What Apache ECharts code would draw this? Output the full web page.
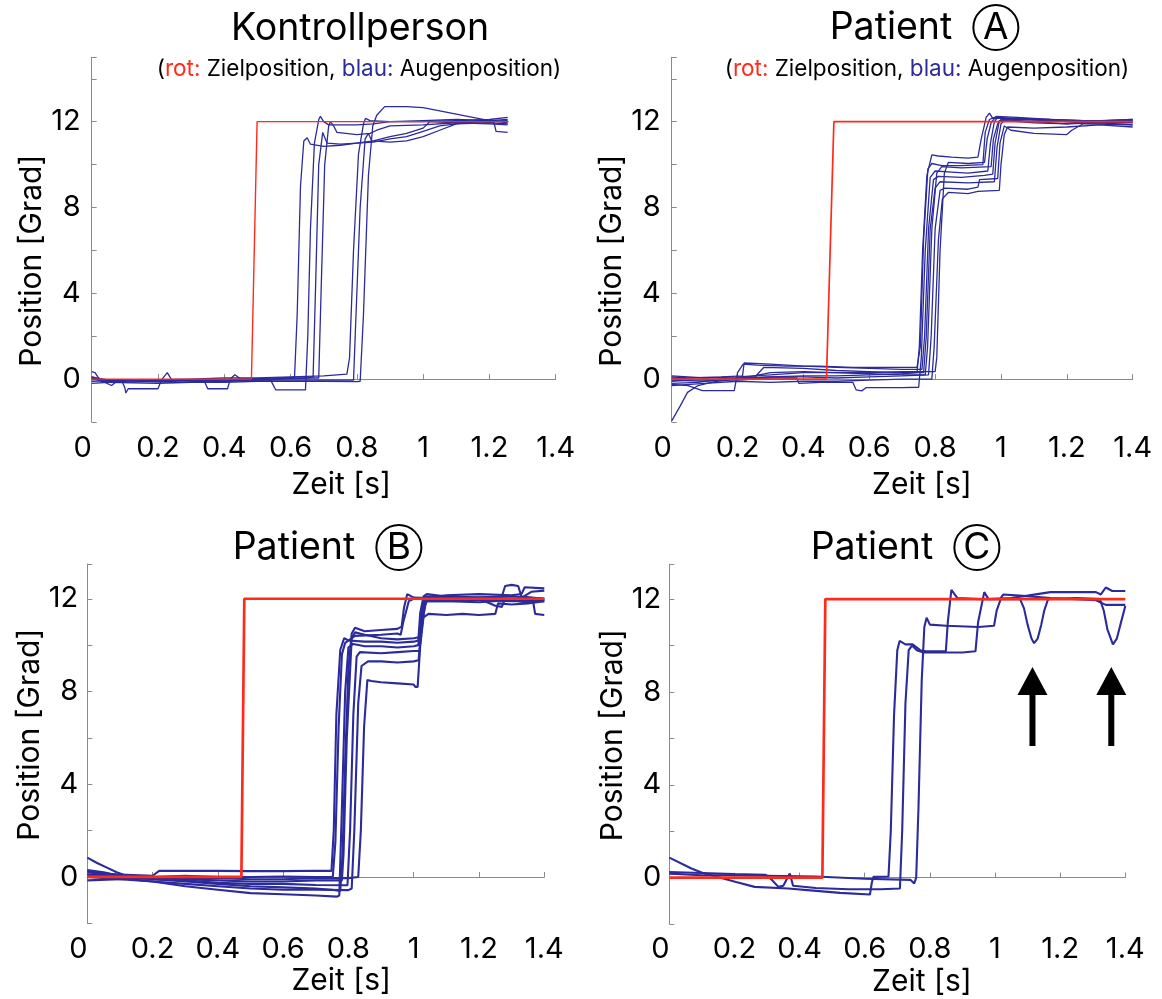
<!DOCTYPE html>
<html>
<head>
<meta charset="utf-8">
<script src="https://cdn.jsdelivr.net/npm/echarts@6/dist/echarts.min.js"></script>
<style>
  html, body { margin: 0; padding: 0; background: #fff; }
  #chart { width: 1162px; height: 999px; }
</style>
</head>
<body>
<div id="chart"></div>
<script>
const FONT = 'Inter, "Liberation Sans", Helvetica, Arial, sans-serif';
const BLUE = '#2b2b9c';
const RED = '#ff2a1a';
const AXIS_GREY = '#8a8a8a';

// tick labels that are printed on the y axes (ticks every 2)
const yTickLabels = [0, 4, 8, 12];

// target (red) step for each panel: [time s, position deg]
const kontrollTarget = [[0, 0], [0.482, 0], [0.499, 12], [1.258, 12]];
const patientATarget = [[0, 0], [0.47, 0], [0.4925, 12], [1.4, 12]];
const patientBTarget = [[0, 0], [0.472, 0], [0.481, 12], [1.4, 12]];
const patientCTarget = [[0, 0], [0.47, 0], [0.479, 12], [1.4, 12]];

// eye traces (blue)
const kontrollTraces = [
  [[0,0.05],[0.03,-0.1],[0.1,-0.15],[0.2,-0.1],[0.3,-0.15],[0.4,-0.1],[0.5,-0.05],[0.6,0.05],[0.612,0.1],[0.62,3],[0.63,9],[0.64,11.1],[0.65,11.25],[0.66,10.95],[0.7,10.85],[0.75,10.9],[0.8,11.0],[0.85,11.1],[0.9,11.3],[0.95,11.45],[1.0,11.7],[1.02,12.0],[1.1,11.95],[1.2,11.9],[1.255,11.85]],
  [[0,0.35],[0.01,0.3],[0.025,-0.05],[0.06,-0.3],[0.08,-0.05],[0.15,-0.1],[0.25,-0.15],[0.33,-0.1],[0.4,-0.05],[0.48,0],[0.54,-0.05],[0.555,-0.5],[0.6,-0.5],[0.645,-0.5],[0.652,2],[0.66,7],[0.672,11],[0.685,12.1],[0.69,12.25],[0.7,12.0],[0.715,11.85],[0.8,11.85],[0.85,11.9],[0.9,12.0],[1.0,12.05],[1.1,12.1],[1.2,12.05],[1.255,12.1]],
  [[0,-0.1],[0.09,-0.05],[0.1,-0.4],[0.103,-0.65],[0.11,-0.45],[0.2,-0.45],[0.21,-0.05],[0.228,0.3],[0.24,0],[0.35,-0.05],[0.45,-0.05],[0.55,0],[0.65,0.05],[0.668,0.1],[0.675,4],[0.685,10],[0.697,11.5],[0.71,11.0],[0.75,10.95],[0.8,11.0],[0.85,11.05],[0.9,11.2],[0.95,11.3],[1.0,11.55],[1.05,11.8],[1.1,11.9],[1.2,11.95],[1.255,11.9]],
  [[0,0.1],[0.05,-0.05],[0.15,-0.05],[0.3,-0.05],[0.34,-0.1],[0.35,-0.45],[0.41,-0.45],[0.418,0],[0.432,0.2],[0.45,0],[0.55,0.05],[0.65,0.05],[0.685,0.05],[0.692,4],[0.703,10],[0.715,11.8],[0.72,12.0],[0.73,11.8],[0.74,11.5],[0.8,11.4],[0.84,11.45],[0.86,11.6],[0.9,11.8],[1.0,11.85],[1.1,11.95],[1.2,12.0],[1.214,11.95],[1.22,11.55],[1.255,11.5]],
  [[0,-0.2],[0.1,-0.1],[0.2,-0.05],[0.3,0],[0.4,0.05],[0.5,0.05],[0.6,0.1],[0.7,0.15],[0.77,0.23],[0.778,1],[0.79,6],[0.805,10.5],[0.82,11.9],[0.826,12.15],[0.84,12.05],[0.9,12.0],[1.0,12.0],[1.1,12.05],[1.2,12.1],[1.255,12.2]],
  [[0,0.1],[0.05,-0.15],[0.2,-0.2],[0.3,-0.15],[0.4,-0.15],[0.5,-0.1],[0.6,-0.1],[0.7,-0.1],[0.8,-0.12],[0.81,-0.1],[0.82,3],[0.835,9.5],[0.848,11.8],[0.86,12.3],[0.884,12.7],[0.95,12.7],[1.0,12.65],[1.05,12.5],[1.1,12.35],[1.15,12.2],[1.2,12.05],[1.255,11.95]],
  [[0,0],[0.1,-0.05],[0.2,-0.1],[0.3,-0.05],[0.4,-0.1],[0.5,-0.05],[0.6,-0.05],[0.7,-0.05],[0.79,-0.05],[0.795,2],[0.81,8],[0.825,11.2],[0.835,11.45],[0.845,11.1],[0.9,11.05],[0.95,11.1],[1.0,11.3],[1.05,11.6],[1.1,11.9],[1.15,12.0],[1.255,12.05]]
];

const patientATraces = [
  [[0,-1.95],[0.026,-1.25],[0.048,-0.62],[0.08,-0.3],[0.13,-0.12],[0.2,0],[0.3,0.1],[0.4,0.15],[0.5,0.15],[0.6,0.2],[0.7,0.25],[0.745,0.3],[0.752,1.5],[0.762,6],[0.775,9.5],[0.79,10.45],[0.81,10.4],[0.85,10.35],[0.9,10.3],[0.93,10.35],[0.94,11.2],[0.955,12.2],[0.965,12.4],[0.975,12.15],[1.0,12.15],[1.1,12.1],[1.2,12.0],[1.3,12.05],[1.4,12.0]],
  [[0,-0.25],[0.05,-0.3],[0.093,-0.54],[0.19,-0.54],[0.2,0.3],[0.217,0.7],[0.26,0.65],[0.35,0.6],[0.45,0.6],[0.55,0.55],[0.65,0.55],[0.745,0.55],[0.755,1.5],[0.765,6.5],[0.778,9.8],[0.79,10.05],[0.82,9.95],[0.88,9.95],[0.945,10.0],[0.952,11.5],[0.965,12.1],[0.98,12.2],[1.05,12.15],[1.15,12.05],[1.25,12.0],[1.4,12.1]],
  [[0,-0.1],[0.1,0],[0.2,-0.05],[0.3,0.05],[0.38,0.05],[0.386,-0.2],[0.45,-0.15],[0.55,-0.15],[0.56,-0.5],[0.577,-0.55],[0.59,-0.4],[0.7,-0.4],[0.75,-0.38],[0.758,1],[0.77,6],[0.785,9.4],[0.8,9.7],[0.85,9.65],[0.9,9.6],[0.96,9.7],[0.968,11],[0.98,12.0],[0.99,12.2],[1.05,12.1],[1.15,12.05],[1.25,11.95],[1.4,11.95]],
  [[0,0.1],[0.05,0.05],[0.15,0.1],[0.215,0.15],[0.22,0.75],[0.3,0.7],[0.4,0.6],[0.5,0.55],[0.6,0.5],[0.7,0.45],[0.76,0.45],[0.768,2],[0.78,7],[0.795,9.3],[0.81,9.45],[0.88,9.4],[0.95,9.5],[0.975,9.55],[0.982,11],[0.995,12.05],[1.05,12.15],[1.15,12.1],[1.25,12.05],[1.4,12.0]],
  [[0,-0.2],[0.08,-0.15],[0.15,0],[0.25,0.05],[0.28,0.55],[0.4,0.5],[0.5,0.4],[0.6,0.35],[0.7,0.3],[0.765,0.3],[0.773,2],[0.785,7],[0.8,8.9],[0.815,9.2],[0.9,9.15],[0.98,9.2],[0.988,10.8],[1.0,11.9],[1.01,12.05],[1.1,11.95],[1.2,11.9],[1.3,11.95],[1.4,11.85]],
  [[0,0.05],[0.1,-0.05],[0.2,0.05],[0.3,0.1],[0.4,0.1],[0.5,0.05],[0.6,0.1],[0.7,0.15],[0.78,0.2],[0.788,2],[0.8,7],[0.815,8.8],[0.83,8.9],[0.9,8.85],[0.93,8.95],[0.935,9.3],[0.99,9.35],[0.997,11],[1.01,11.8],[1.03,11.6],[1.1,11.45],[1.2,11.4],[1.215,11.6],[1.25,11.9],[1.4,11.85]],
  [[0,-0.3],[0.1,-0.2],[0.2,-0.1],[0.3,-0.15],[0.4,-0.1],[0.5,-0.1],[0.6,-0.05],[0.7,0],[0.79,0],[0.797,1.5],[0.81,6.5],[0.822,8.4],[0.84,8.7],[0.9,8.65],[0.93,8.75],[0.995,8.8],[1.0,10],[1.01,11.4],[1.02,11.75],[1.1,11.7],[1.2,11.75],[1.3,11.85],[1.4,11.75]],
  [[0,0.15],[0.1,0.05],[0.2,0.1],[0.3,0.2],[0.4,0.3],[0.5,0.3],[0.6,0.3],[0.7,0.35],[0.8,0.35],[0.805,1],[0.815,6],[0.828,9.6],[0.84,10.1],[0.9,10.05],[0.95,10.1],[0.958,11.2],[0.97,11.95],[0.985,12.25],[1.05,12.2],[1.15,12.1],[1.25,12.05],[1.4,12.05]],
  [[0,-0.05],[0.1,-0.1],[0.2,0],[0.3,0.3],[0.4,0.35],[0.5,0.3],[0.6,0.25],[0.7,0.2],[0.77,0.2],[0.777,1.5],[0.79,7],[0.805,9.6],[0.82,9.9],[0.88,9.85],[0.97,9.9],[0.977,11.2],[0.99,11.9],[1.0,12.1],[1.1,12.0],[1.2,11.9],[1.3,12.05],[1.4,12.1]]
];

const patientBTraces = [
  [[0,0.83],[0.03,0.6],[0.06,0.4],[0.09,0.2],[0.12,0.05],[0.2,-0.1],[0.3,-0.2],[0.4,-0.3],[0.5,-0.4],[0.6,-0.45],[0.7,-0.5],[0.75,-0.55],[0.775,-0.6],[0.782,1],[0.79,5],[0.8,9],[0.81,10.5],[0.82,10.75],[0.85,10.6],[0.9,10.65],[0.95,10.7],[0.963,10.8],[0.97,11.6],[0.98,12.2],[1.0,12.05],[1.1,12.0],[1.2,12.05],[1.3,12.0],[1.4,11.95]],
  [[0,0.25],[0.05,0.15],[0.1,0.1],[0.2,0.05],[0.22,0.26],[0.3,0.27],[0.4,0.26],[0.5,0.25],[0.6,0.25],[0.7,0.27],[0.748,0.26],[0.755,2],[0.763,7],[0.775,9.8],[0.787,10.3],[0.8,10.2],[0.85,10.15],[0.9,10.15],[0.95,10.1],[1.0,10.15],[1.014,10.2],[1.02,11.4],[1.03,12.1],[1.04,12.2],[1.1,12.1],[1.2,12.05],[1.27,12.1],[1.28,12.55],[1.3,12.6],[1.32,12.55],[1.33,12.1],[1.4,12.0]],
  [[0,0.1],[0.05,0],[0.1,-0.05],[0.2,-0.2],[0.3,-0.4],[0.4,-0.55],[0.5,-0.7],[0.6,-0.75],[0.7,-0.8],[0.765,-0.85],[0.772,-0.8],[0.78,3],[0.79,8],[0.8,9.9],[0.815,10.05],[0.85,9.95],[0.9,9.95],[0.95,9.9],[1.0,9.95],[1.014,10.0],[1.022,11.2],[1.035,12.1],[1.1,12.1],[1.2,12.05],[1.3,12.1],[1.4,12.0]],
  [[0,-0.15],[0.1,-0.1],[0.2,-0.05],[0.3,-0.1],[0.4,-0.15],[0.5,-0.2],[0.6,-0.2],[0.7,-0.15],[0.78,-0.15],[0.785,1],[0.795,6],[0.81,10.3],[0.82,10.55],[0.85,10.45],[0.9,10.3],[0.95,10.25],[1.0,10.3],[1.02,10.35],[1.028,11.5],[1.04,11.9],[1.1,11.9],[1.2,11.85],[1.3,11.95],[1.34,11.85],[1.366,11.85],[1.372,11.35],[1.4,11.3]],
  [[0,0.2],[0.05,0.1],[0.1,0],[0.2,-0.1],[0.3,-0.15],[0.4,-0.25],[0.5,-0.3],[0.6,-0.3],[0.7,-0.35],[0.797,-0.36],[0.805,2],[0.815,7],[0.825,9.5],[0.835,9.7],[0.9,9.65],[0.95,9.7],[1.0,9.75],[1.018,9.75],[1.026,11],[1.04,12.05],[1.1,12.15],[1.2,12.2],[1.3,12.15],[1.33,12.2],[1.34,12.5],[1.4,12.45]],
  [[0,0.0],[0.1,-0.1],[0.2,-0.2],[0.3,-0.3],[0.4,-0.4],[0.5,-0.5],[0.6,-0.55],[0.7,-0.55],[0.8,-0.57],[0.81,-0.5],[0.818,2],[0.83,7.5],[0.84,9.1],[0.86,9.3],[0.9,9.3],[0.95,9.25],[1.0,9.3],[1.015,9.35],[1.022,10.5],[1.035,11.8],[1.04,11.9],[1.1,11.9],[1.2,11.95],[1.3,11.9],[1.4,11.9]],
  [[0,0.3],[0.05,0.2],[0.1,0.05],[0.2,0],[0.3,-0.05],[0.4,-0.05],[0.5,-0.1],[0.6,-0.1],[0.7,-0.05],[0.8,-0.05],[0.83,0],[0.838,2],[0.848,6.5],[0.858,8.5],[0.87,8.45],[0.9,8.4],[0.95,8.35],[1.0,8.3],[1.005,8.2],[1.012,8.2],[1.02,10],[1.03,11.2],[1.045,11.35],[1.1,11.3],[1.15,11.35],[1.2,11.3],[1.25,11.35],[1.258,11.8],[1.3,11.75],[1.35,11.8],[1.4,11.9]],
  [[0,0.1],[0.1,0.05],[0.2,0],[0.3,0.05],[0.4,0],[0.5,0],[0.6,0.02],[0.7,0],[0.752,0],[0.76,1.5],[0.77,6.5],[0.78,9.6],[0.79,10.1],[0.82,10.4],[0.9,10.45],[0.95,10.5],[0.96,10.45],[0.968,11],[0.985,11.9],[1.0,12.0],[1.1,12.05],[1.2,12.0],[1.25,11.7],[1.27,11.65],[1.28,12.0],[1.32,11.95],[1.36,12.3],[1.4,12.35]]
];

const patientCTraces = [
  [[0,0.86],[0.068,0.39],[0.103,0.2],[0.205,-0.19],[0.262,-0.4],[0.365,-0.47],[0.433,-0.55],[0.524,-0.66],[0.616,-0.73],[0.622,-0.2],[0.627,0.03],[0.673,0.05],[0.68,2],[0.69,7],[0.7,9.8],[0.707,10.2],[0.725,10.05],[0.747,10.05],[0.77,9.8],[0.787,9.75],[0.849,9.75],[0.855,11],[0.866,12.4],[0.884,12.05],[0.95,12.0],[1.077,12.0],[1.089,11.6],[1.1,10.9],[1.112,10.3],[1.12,10.1],[1.131,10.3],[1.142,10.9],[1.151,11.5],[1.163,12.0],[1.25,12.05],[1.322,12.0],[1.334,11.5],[1.345,10.7],[1.362,10.05],[1.374,10.3],[1.385,10.9],[1.4,11.7]],
  [[0,0.24],[0.1,0.2],[0.2,0.15],[0.296,0.12],[0.315,-0.1],[0.335,-0.4],[0.35,-0.35],[0.37,0.18],[0.38,-0.35],[0.45,-0.45],[0.55,-0.5],[0.65,-0.5],[0.708,-0.47],[0.715,2],[0.725,7.5],[0.735,9.8],[0.745,10.0],[0.76,9.8],[0.78,9.7],[0.9,9.7],[0.94,9.75],[0.948,11],[0.967,12.3],[0.98,12.0],[1.05,12.05],[1.1,12.15],[1.17,12.3],[1.31,12.3],[1.325,12.2],[1.34,12.5],[1.36,12.35],[1.4,12.35]],
  [[0,0.17],[0.1,0.1],[0.2,0.1],[0.3,0.08],[0.45,0.05],[0.6,-0.05],[0.741,-0.1],[0.752,-0.25],[0.758,0],[0.765,3],[0.775,8.5],[0.783,10.8],[0.79,11.2],[0.8,10.9],[0.85,10.85],[0.95,10.8],[0.997,10.85],[1.005,11.5],[1.02,12.1],[1.026,12.2],[1.075,12.15],[1.17,12.05],[1.31,11.95],[1.34,11.75],[1.4,11.75]]
];

// arrows in panel C: [time, centre of arrow in deg]
const patientCArrows = [[1.115, 7.37], [1.357, 7.37]];

const panelTitles = ['Kontrollperson', 'Patient  {c|A}', 'Patient  {c|B}', 'Patient  {c|C}'];
const panelTitleX = [360, 924, 327, 905];
const panelTitleY = [10, 5, 525, 525];
const legendNote = '({r|rot:} Zielposition, {b|blau:} Augenposition)';
const legendNoteX = [359, 927];

const grids = [
  { left: 91.7, top: 57.3, width: 464, height: 364.7 },
  { left: 671.7, top: 57.3, width: 461, height: 364.7 },
  { left: 87.3, top: 564, width: 457, height: 359.3 },
  { left: 669.3, top: 564.3, width: 456, height: 359.7 }
];
const yMax = [15, 15, 13.5, 13.5];
const yNameShift = [21, 21, -9, -9];
const yNameGap = [33, 33, 33, 31];
const xNameShift = [17.5, 19.7, 25.4, 24.6];
const xNameGap = [48, 48, 43, 43];
const xLabelMargin = [12, 12, 11, 11];
const yLabelMargin = [11, 11, 9, 8];

const chart = echarts.init(document.getElementById('chart'), null, { renderer: 'canvas' });

const xAxes = grids.map((g, i) => ({
  type: 'value',
  gridIndex: i,
  min: 0,
  max: 1.4,
  interval: 0.2,
  name: 'Zeit [s]',
  nameLocation: 'middle',
  nameGap: xNameGap[i],
  nameTextStyle: {
    fontFamily: FONT, fontSize: 30, color: '#000',
    padding: [0, 0, 0, xNameShift[i] * 2]
  },
  axisLine: { lineStyle: { color: AXIS_GREY, width: 1 } },
  axisTick: { inside: true, length: 5, lineStyle: { color: AXIS_GREY } },
  splitLine: { show: false },
  axisLabel: {
    fontFamily: FONT, fontSize: 29, color: '#000', margin: xLabelMargin[i],
    // the "0" sits a little left of its tick in the original
    formatter: v => (v === 0 ? '{z|0}' : String(v)),
    rich: { z: { fontFamily: FONT, fontSize: 29, color: '#000', padding: [0, 18, 0, 0] } }
  }
}));

const yAxes = grids.map((g, i) => ({
  type: 'value',
  gridIndex: i,
  min: -2,
  max: yMax[i],
  interval: 2,
  name: 'Position [Grad]',
  nameLocation: 'middle',
  nameGap: yNameGap[i],
  nameTextStyle: {
    fontFamily: FONT, fontSize: 30, color: '#000',
    padding: yNameShift[i] > 0 ? [0, yNameShift[i] * 2, 0, 0] : [0, 0, 0, -yNameShift[i] * 2]
  },
  axisLine: { lineStyle: { color: AXIS_GREY, width: 1 } },
  axisTick: { inside: true, length: 5, lineStyle: { color: AXIS_GREY } },
  splitLine: { show: false },
  axisLabel: {
    fontFamily: FONT, fontSize: 29, color: '#000', margin: yLabelMargin[i],
    formatter: v => (yTickLabels.indexOf(v) >= 0 ? String(v) : '')
  }
}));

const traceSeries = (idx, traces, width) =>
  traces.map(tr => ({
    type: 'line',
    xAxisIndex: idx,
    yAxisIndex: idx,
    data: tr,
    showSymbol: false,
    symbol: 'none',
    silent: true,
    lineStyle: { color: BLUE, width: width }
  }));

const targetSeries = (idx, target, width) => ({
  type: 'line',
  xAxisIndex: idx,
  yAxisIndex: idx,
  data: target,
  showSymbol: false,
  symbol: 'none',
  silent: true,
  z: 5,
  lineStyle: { color: RED, width: width }
});

const circleStyle = {
  fontFamily: FONT, fontSize: 37, color: '#000',
  width: 45, height: 45, lineHeight: 45, align: 'center',
  borderColor: '#000', borderWidth: 2, borderRadius: 24
};

const titles = panelTitles.map((t, i) => ({
  text: t,
  left: panelTitleX[i],
  top: panelTitleY[i],
  textAlign: 'center',
  padding: 0,
  textStyle: {
    fontFamily: FONT, fontSize: 37.5, fontWeight: 'normal', color: '#000',
    rich: { c: circleStyle }
  }
})).concat(legendNoteX.map(x => ({
  text: legendNote,
  left: x,
  top: 58,
  textAlign: 'center',
  padding: 0,
  textStyle: {
    fontFamily: FONT, fontSize: 22.5, fontWeight: 'normal', color: '#000',
    rich: {
      r: { fontFamily: FONT, fontSize: 22.5, color: RED },
      b: { fontFamily: FONT, fontSize: 22.5, color: BLUE }
    }
  }
})));

const series = []
  .concat(traceSeries(0, kontrollTraces, 1.3), [targetSeries(0, kontrollTarget, 1.4)])
  .concat(traceSeries(1, patientATraces, 1.3), [targetSeries(1, patientATarget, 1.7)])
  .concat(traceSeries(2, patientBTraces, 2.1), [targetSeries(2, patientBTarget, 2.7)])
  .concat(traceSeries(3, patientCTraces, 2.1), [targetSeries(3, patientCTarget, 2.7)])
  .concat([{
    type: 'scatter',
    xAxisIndex: 3,
    yAxisIndex: 3,
    data: patientCArrows,
    symbol: 'path://M15,0L30,28L18,28L18,79L12,79L12,28L0,28Z',
    symbolSize: [30, 79],
    silent: true,
    z: 6,
    itemStyle: { color: '#000', opacity: 1 }
  }]);

chart.setOption({
  animation: false,
  backgroundColor: '#fff',
  title: titles,
  grid: grids,
  xAxis: xAxes,
  yAxis: yAxes,
  series: series
});
</script>
</body>
</html>
